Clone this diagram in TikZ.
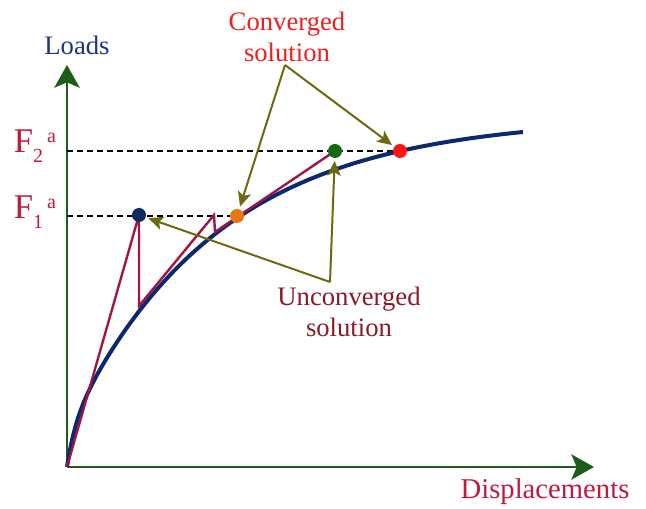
\documentclass[tikz,border=0pt]{standalone}
\usepackage{fontspec}
\setmainfont{Liberation Serif}
\usetikzlibrary{arrows.meta, positioning}

\definecolor{axisgreen}{RGB}{30,92,25}
\definecolor{loadblue}{RGB}{30,50,135}
\definecolor{labred}{RGB}{195,25,60}
\definecolor{convred}{RGB}{240,30,30}
\definecolor{unconvred}{RGB}{140,25,40}
\definecolor{iterpink}{RGB}{160,20,70}
\definecolor{curveblue}{RGB}{12,40,110}
\definecolor{pointolive}{RGB}{110,105,15}
\definecolor{dotblue}{RGB}{15,45,90}
\definecolor{dotorange}{RGB}{230,120,20}
\definecolor{dotgreen}{RGB}{20,105,20}
\definecolor{dotred}{RGB}{255,20,20}

\newcommand{\Flab}[1]{{\fontsize{26}{26}\selectfont F}{\fontsize{15}{15}\selectfont\raisebox{-7pt}{#1}\hspace{3pt}\raisebox{8pt}{a}}}

\begin{document}
\begin{tikzpicture}[x=0.75pt, y=-0.75pt,
        axis/.style={line width=2.2pt, draw=axisgreen, -{Stealth[length=17pt, width=19pt, inset=4pt]}},
        lbl/.style={inner sep=0pt, align=center, font=\fontsize{20}{23}\selectfont},
        flab/.style={inner sep=0pt, text=labred},
        level/.style={dashed, dash pattern=on 4.5pt off 3pt, line width=1pt, draw=black},
        curve/.style={line width=3pt, draw=curveblue},
        iter/.style={line width=1.8pt, draw=iterpink, line join=miter},
        dot/.style={circle, inner sep=0pt, minimum size=10.5pt},
        pointer/.style={-{Stealth[length=11pt, width=10pt, inset=2.5pt]}, line width=1.5pt, draw=pointolive, shorten >=2pt}
    ]
    \useasboundingbox (0,0) rectangle (646,509);

    % axes
    \coordinate (o) at (67,467);
    \coordinate (ytip) at (67,65);
    \coordinate (xtip) at (594,467);
    \draw[axis] (o) -- (ytip);
    \draw[axis] (o) -- (xtip);
    \node[lbl, text=loadblue] (loads) at (77,45) {Loads};
    \node[lbl, text=labred, font=\fontsize{21.5}{24}\selectfont] (disp) at (545,492) {Displacements};

    % load levels
    \node[flab] (f2) at (35,146) {\Flab{2}};
    \node[flab] (f1) at (35,212) {\Flab{1}};
    \coordinate (p1) at (139,215);
    \coordinate (p2) at (237,216);
    \coordinate (p3) at (335,151);
    \coordinate (p4) at (400,151);
    \draw[level] (o |- p4) -- (p4);
    \draw[level] (o |- p2) -- (p2);

    % response curve and iterations
    \draw[curve] plot[domain=0:456, samples=160] ({67+\x}, {117+314*exp(-\x/150)+36*exp(max(-\x/8,-20))});
    \draw[iter] (o) -- (p1) -- (139,306) -- (214,215) -- (215,232) -- (p3);

    \node[dot, fill=dotblue] (d1) at (p1) {};
    \node[dot, fill=dotorange] (d2) at (p2) {};
    \node[dot, fill=dotgreen] (d3) at (p3) {};
    \node[dot, fill=dotred] (d4) at (p4) {};

    % callouts
    \node[lbl, text=convred] (conv) at (287,37) {Converged\\solution};
    \coordinate (capex) at (285,65);
    \draw[pointer] (capex) -- (d2);
    \draw[pointer] (capex) -- (d4);

    \node[lbl, text=unconvred] (unconv) at (349,312) {Unconverged\\solution};
    \coordinate (uapex) at (330,282);
    \draw[pointer] (uapex) -- (d1);
    \draw[pointer] (uapex) -- (d3);
\end{tikzpicture}
\end{document}
